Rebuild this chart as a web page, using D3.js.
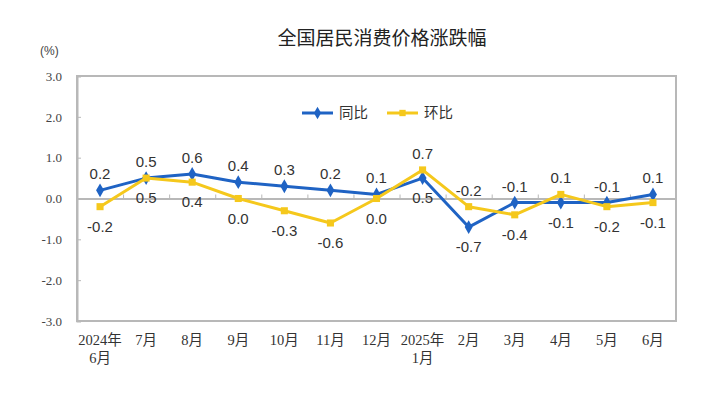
<!DOCTYPE html>
<html>
<head>
<meta charset="utf-8">
<script src="https://cdn.jsdelivr.net/npm/d3@7"></script>
<style>
  body { margin: 0; background: #fff; }
  svg { display: block; }
</style>
</head>
<body>
<div id="chart"></div>
<script>
// categories (first line / second line of the axis labels)
const months = ['2024年', '7月', '8月', '9月', '10月', '11月', '12月', '2025年', '2月', '3月', '4月', '5月', '6月'];
const monthsLine2 = ['6月', '', '', '', '', '', '', '1月', '', '', '', '', ''];

// series values (%)
const yoy = [0.2, 0.5, 0.6, 0.4, 0.3, 0.2, 0.1, 0.5, -0.7, -0.1, -0.1, -0.1, 0.1];  // 同比
const mom = [-0.2, 0.5, 0.4, 0.0, -0.3, -0.6, 0.0, 0.7, -0.2, -0.4, 0.1, -0.2, -0.1]; // 环比

const yTicks = [3, 2, 1, 0, -1, -2, -3];

const WIDTH = 719, HEIGHT = 397;
const margin = { top: 76, right: 43, bottom: 76, left: 77 };

const BLUE = '#1f63c4', YELLOW = '#f5c81c', GRID = '#b8b8b8';

const svg = d3.select('#chart').append('svg')
  .attr('width', WIDTH)
  .attr('height', HEIGHT);

svg.append('rect').attr('width', WIDTH).attr('height', HEIGHT).attr('fill', '#fff');

const x = d3.scaleBand()
  .domain(d3.range(months.length))
  .range([margin.left, WIDTH - margin.right])
  .padding(0);

// boundaries between categories, used for the little ticks on the zero line
const xEdge = d3.scaleLinear()
  .domain([0, months.length])
  .range([margin.left, WIDTH - margin.right]);

const y = d3.scaleLinear()
  .domain([-3, 3])
  .range([HEIGHT - margin.bottom, margin.top]);

const cx = i => x(i) + x.bandwidth() / 2;

// title
svg.append('text')
  .attr('x', 382)
  .attr('y', 45)
  .attr('text-anchor', 'middle')
  .style('font-family', '"Noto Sans CJK SC", sans-serif')
  .style('font-size', '19px')
  .style('font-weight', 400)
  .style('fill', '#222')
  .text('全国居民消费价格涨跌幅');

svg.append('text')
  .attr('x', 40)
  .attr('y', 55)
  .style('font-family', '"Liberation Sans", Arial, sans-serif')
  .style('font-size', '12px')
  .style('fill', '#444')
  .text('(%)');

// plot frame
svg.append('rect')
  .attr('x', margin.left)
  .attr('y', margin.top)
  .attr('width', WIDTH - margin.left - margin.right)
  .attr('height', HEIGHT - margin.top - margin.bottom)
  .attr('fill', 'none')
  .attr('stroke', GRID)
  .attr('stroke-width', 2);

// y axis, ticks pointing inside
const yAxis = svg.append('g')
  .attr('transform', `translate(${margin.left},0)`)
  .call(d3.axisLeft(y).tickValues(yTicks).tickSize(-4).tickPadding(15).tickFormat(d => d.toFixed(1)));
yAxis.select('.domain').attr('stroke', GRID).attr('stroke-width', 2);
yAxis.selectAll('.tick line').attr('stroke', GRID);
yAxis.selectAll('.tick text')
  .style('font-family', '"Liberation Serif", "Times New Roman", serif')
  .style('font-size', '13px')
  .style('fill', '#444');

// zero line with category ticks
const zeroAxis = svg.append('g')
  .attr('transform', `translate(0,${y(0)})`)
  .call(d3.axisTop(xEdge).tickValues(d3.range(1, months.length)).tickSize(4).tickSizeOuter(0).tickFormat(''));
zeroAxis.select('.domain').attr('stroke', GRID).attr('stroke-width', 2);
zeroAxis.selectAll('.tick line').attr('stroke', GRID);

// x labels
const xl = svg.append('g')
  .style('font-family', '"Liberation Serif", "Noto Sans CJK SC", serif')
  .style('font-size', '14.5px')
  .style('fill', '#333')
  .attr('text-anchor', 'middle');

xl.selectAll('.l1').data(months).enter().append('text')
  .attr('x', (d, i) => cx(i))
  .attr('y', 345)
  .text(d => d);

xl.selectAll('.l2').data(monthsLine2).enter().append('text')
  .attr('x', (d, i) => cx(i))
  .attr('y', 363)
  .text(d => d);

// series
const line = d3.line().x((d, i) => cx(i)).y(d => y(d));

const series = [
  { name: '同比', values: yoy, color: BLUE, symbol: d3.symbolDiamond, size: 55 },
  { name: '环比', values: mom, color: YELLOW, symbol: d3.symbolSquare, size: 50 }
];

series.forEach(s => {
  const g = svg.append('g');
  g.append('path')
    .datum(s.values)
    .attr('d', line)
    .attr('fill', 'none')
    .attr('stroke', s.color)
    .attr('stroke-width', 3)
    .attr('stroke-linejoin', 'round');
  g.selectAll('path.marker').data(s.values).enter().append('path')
    .attr('class', 'marker')
    .attr('d', d3.symbol().type(s.symbol).size(s.size))
    .attr('transform', (d, i) => `translate(${cx(i)},${y(d)})`)
    .attr('fill', s.color);
});

// data labels: the higher series gets its label above, the other below
const labels = svg.append('g')
  .style('font-family', '"Liberation Sans", Arial, sans-serif')
  .style('font-size', '15px')
  .style('fill', '#333')
  .attr('text-anchor', 'middle');

yoy.forEach((v, i) => {
  const above = v >= mom[i];
  labels.append('text')
    .attr('x', cx(i))
    .attr('y', y(v) + (above ? -11 : 25))
    .text(v.toFixed(1));
  labels.append('text')
    .attr('x', cx(i))
    .attr('y', y(mom[i]) + (above ? 25 : -11))
    .text(mom[i].toFixed(1));
});

// legend
const legend = svg.append('g');
const legendItems = [
  { x: 302, s: series[0] },
  { x: 387, s: series[1] }
];
legendItems.forEach(d => {
  legend.append('line')
    .attr('x1', d.x).attr('x2', d.x + 31)
    .attr('y1', 113).attr('y2', 113)
    .attr('stroke', d.s.color)
    .attr('stroke-width', 3);
  legend.append('path')
    .attr('d', d3.symbol().type(d.s.symbol).size(d.s.size * 0.8))
    .attr('transform', `translate(${d.x + 15.5},113)`)
    .attr('fill', d.s.color);
  legend.append('text')
    .attr('x', d.x + 37)
    .attr('y', 118)
    .style('font-family', '"Noto Sans CJK SC", sans-serif')
    .style('font-size', '14.5px')
    .style('fill', '#333')
    .text(d.s.name);
});
</script>
</body>
</html>
